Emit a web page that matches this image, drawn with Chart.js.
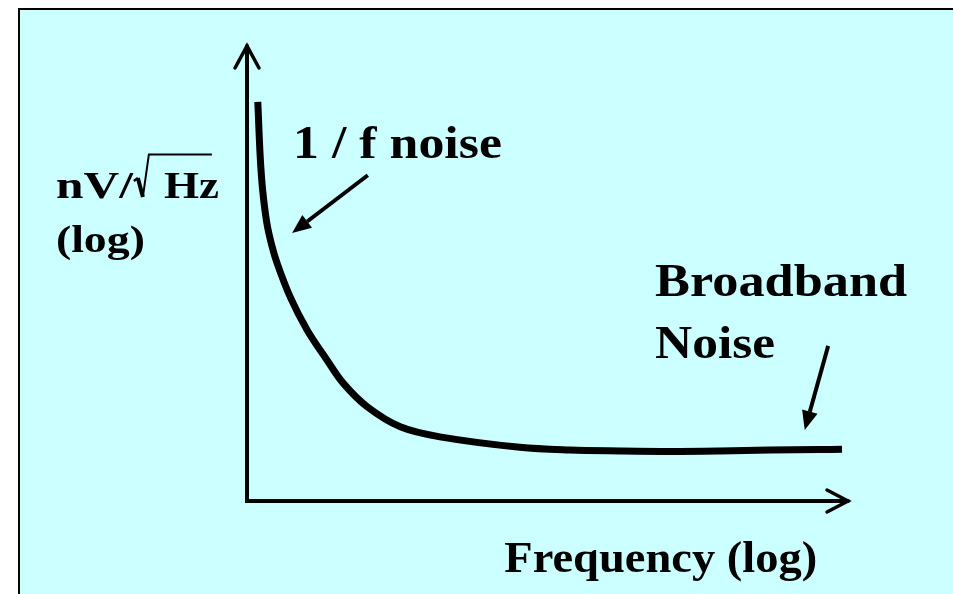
<!DOCTYPE html>
<html>
<head>
<meta charset="utf-8">
<style>
  html, body { margin: 0; padding: 0; background: #fff; }
  canvas { display: block; }
</style>
<script src="https://cdn.jsdelivr.net/npm/chart.js@4/dist/chart.umd.min.js"></script>
</head>
<body>
<canvas id="chart" width="953" height="594"></canvas>
<script>
// noise spectral density sketch - log(f) on x, log(nV/sqrt(Hz)) on y, both in arbitrary 0..100 units

const freqLog = [1.8, 2.2, 2.6, 3.3, 4.1, 5.0, 7.2, 10.0, 13.3, 16.0, 20.0, 25.5, 32.1, 45.4, 53.7, 62.1, 70.4, 78.7, 87.0, 95.3, 99.0];
const noiseLog = [87.7, 75.6, 68.4, 61.1, 56.3, 52.3, 44.8, 37.6, 31.0, 25.9, 20.7, 16.3, 14.1, 11.8, 11.2, 11.0, 10.9, 11.0, 11.2, 11.3, 11.4];

// annotation anchors, in the same data units
const oneOverFArrow = { from: [20.1, 71.6], to: [7.5, 58.9] };
const broadbandArrow = { from: [96.7, 34.1], to: [92.8, 15.6] };

const labels = [
  { text: '1 / f noise', x: 7.65, y: 75.4, size: 47, width: 209 },
  { text: 'Broadband', x: 67.9, y: 45.1, size: 47, width: 252 },
  { text: 'Noise', x: 67.9, y: 31.4, size: 46, width: 120 },
  { text: 'Frequency (log)', x: 42.8, y: -15.6, size: 44, width: 313 },
  { text: '(log)', x: -31.8, y: 54.7, size: 38, width: 89 }
];

const CYAN = '#ccffff';

function drawText(ctx, t, px, py, size, width) {
  ctx.save();
  ctx.font = 'bold ' + size + 'px "Liberation Serif"';
  ctx.textBaseline = 'alphabetic';
  ctx.textAlign = 'left';
  ctx.fillStyle = '#000';
  const w = ctx.measureText(t).width;
  ctx.translate(px, py);
  ctx.scale(width ? width / w : 1, 1);
  ctx.fillText(t, 0, 0);
  ctx.restore();
}

function filledArrow(ctx, x1, y1, x2, y2) {
  const ang = Math.atan2(y2 - y1, x2 - x1);
  const len = 19, half = 8;
  const bx = x2 - Math.cos(ang) * len, by = y2 - Math.sin(ang) * len;
  ctx.beginPath();
  ctx.moveTo(x1, y1);
  ctx.lineTo(bx, by);
  ctx.lineWidth = 4;
  ctx.stroke();
  ctx.beginPath();
  ctx.moveTo(x2, y2);
  ctx.lineTo(bx + Math.sin(ang) * half, by - Math.cos(ang) * half);
  ctx.lineTo(bx - Math.sin(ang) * half, by + Math.cos(ang) * half);
  ctx.closePath();
  ctx.fill();
}

const backdrop = {
  id: 'backdrop',
  beforeDraw(chart) {
    const ctx = chart.ctx;
    ctx.save();
    ctx.fillStyle = '#fff';
    ctx.fillRect(0, 0, chart.width, chart.height);
    ctx.fillStyle = CYAN;
    ctx.fillRect(18, 8, chart.width - 18, chart.height - 8);
    ctx.fillStyle = '#000';
    ctx.fillRect(18, 8, chart.width - 18, 2);
    ctx.fillRect(18, 8, 2, chart.height - 8);
    ctx.restore();
  }
};

const sketchAxes = {
  id: 'sketchAxes',
  afterDatasetsDraw(chart) {
    const ctx = chart.ctx;
    const { left, right, top, bottom } = chart.chartArea;
    const xs = chart.scales.x, ys = chart.scales.y;
    const px = v => xs.getPixelForValue(v), py = v => ys.getPixelForValue(v);

    ctx.save();
    ctx.strokeStyle = '#000';
    ctx.fillStyle = '#000';
    ctx.lineWidth = 4;
    ctx.lineCap = 'round';
    ctx.lineJoin = 'miter';

    // axes with open arrow heads
    ctx.beginPath();
    ctx.moveTo(left, top);
    ctx.lineTo(left, bottom);
    ctx.lineTo(right, bottom);
    ctx.stroke();
    ctx.lineWidth = 3.5;
    ctx.beginPath();
    ctx.moveTo(left - 12, top + 22);
    ctx.lineTo(left, top);
    ctx.lineTo(left + 12, top + 22);
    ctx.moveTo(right - 21, bottom - 11);
    ctx.lineTo(right, bottom);
    ctx.lineTo(right - 21, bottom + 11);
    ctx.stroke();

    // pointer arrows
    ctx.lineCap = 'butt';
    filledArrow(ctx, px(oneOverFArrow.from[0]), py(oneOverFArrow.from[1]), px(oneOverFArrow.to[0]), py(oneOverFArrow.to[1]));
    filledArrow(ctx, px(broadbandArrow.from[0]), py(broadbandArrow.from[1]), px(broadbandArrow.to[0]), py(broadbandArrow.to[1]));

    // labels
    labels.forEach(l => drawText(ctx, l.text, px(l.x), py(l.y), l.size, l.width));

    // y axis unit: nV/sqrt(Hz), radical sign drawn with a bar over Hz
    const ux = px(-31.8), uy = py(66.6);
    drawText(ctx, 'nV/', ux, uy, 38, 77);
    ctx.lineWidth = 2.5;
    ctx.beginPath();
    ctx.moveTo(ux + 78, uy - 17);
    ctx.lineTo(ux + 82, uy - 20);
    ctx.stroke();
    ctx.lineWidth = 4;
    ctx.beginPath();
    ctx.moveTo(ux + 82, uy - 20);
    ctx.lineTo(ux + 87, uy - 1);
    ctx.stroke();
    ctx.lineWidth = 2;
    ctx.beginPath();
    ctx.moveTo(ux + 87, uy - 1);
    ctx.lineTo(ux + 93, uy - 43.5);
    ctx.lineTo(ux + 156, uy - 43.5);
    ctx.stroke();
    drawText(ctx, 'Hz', ux + 108, uy, 38, 55);
    ctx.restore();
  }
};

function build() {
  const ctx = document.getElementById('chart').getContext('2d');
  new Chart(ctx, {
    type: 'line',
    data: {
      datasets: [
        {
          label: 'Noise density',
          data: freqLog.map((f, i) => ({ x: f, y: noiseLog[i] })),
          borderColor: '#000',
          borderWidth: 7,
          borderCapStyle: 'butt',
          borderJoinStyle: 'round',
          pointRadius: 0,
          tension: 0.35,
          fill: false,
          clip: false,
        }
      ]
    },
    options: {
      responsive: false,
      animation: false,
      devicePixelRatio: 1,
      events: [],
      layout: { padding: { left: 247, right: 105, top: 46, bottom: 93 } },
      plugins: {
        legend: { display: false },
        tooltip: { enabled: false }
      },
      scales: {
        x: { type: 'linear', min: 0, max: 100, display: false },
        y: { type: 'linear', min: 0, max: 100, display: false }
      }
    },
    plugins: [backdrop, sketchAxes]
  });
}

document.fonts.load('bold 40px "Liberation Serif"').then(build, build);
</script>
</body>
</html>
